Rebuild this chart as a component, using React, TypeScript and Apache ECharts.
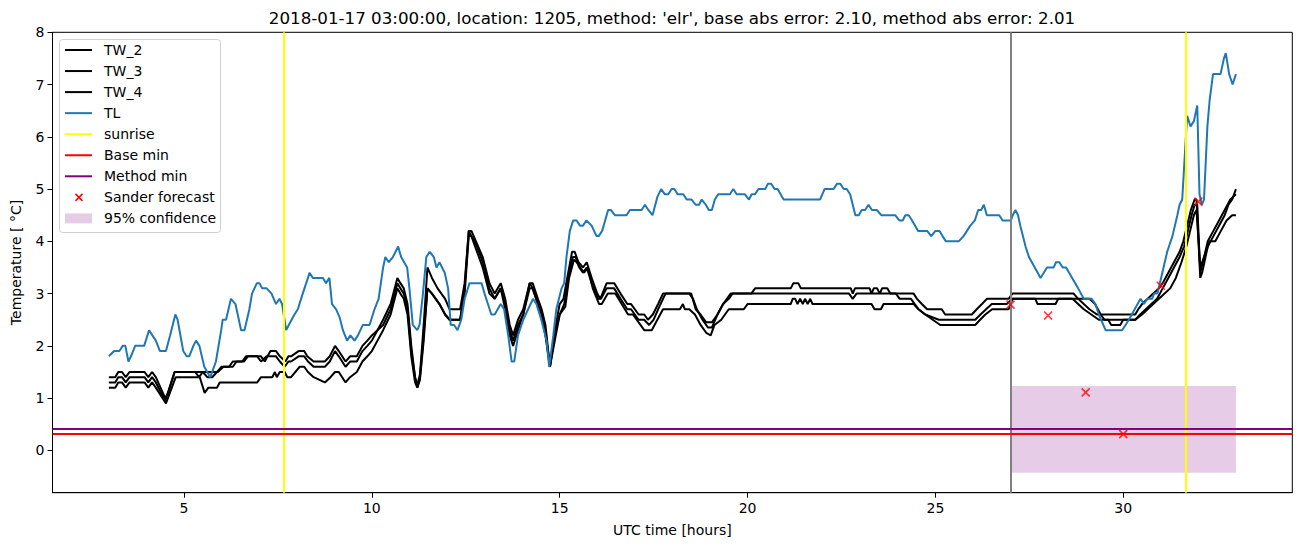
import React, { useEffect, useRef } from "react";
import * as echarts from "echarts";

const TITLE =
  "2018-01-17 03:00:00, location: 1205, method: 'elr', base abs error: 2.10, method abs error: 2.01";
const X_LABEL = "UTC time [hours]";
const Y_LABEL = "Temperature [ \u00b0C]";

const X_TICKS = [5, 10, 15, 20, 25, 30];
const Y_TICKS = [0, 1, 2, 3, 4, 5, 6, 7, 8];

// [UTC hour, temperature]
const TL: [number, number][] = [
  [3.0, 1.8], [3.14, 1.9], [3.28, 1.9], [3.37, 2.0], [3.44, 2.0], [3.52, 1.7], [3.59, 1.8], [3.7, 2.0], [3.94, 2.0],
  [4.07, 2.3], [4.25, 2.1], [4.36, 1.9], [4.52, 1.9], [4.63, 2.2], [4.77, 2.6], [4.83, 2.5], [4.98, 1.9], [5.07, 1.8],
  [5.14, 1.8], [5.25, 2.0], [5.32, 2.1], [5.41, 2.0], [5.54, 1.6], [5.7, 1.4], [5.85, 1.7], [5.99, 2.3], [6.03, 2.5],
  [6.12, 2.5], [6.25, 2.9], [6.37, 2.8], [6.52, 2.3], [6.61, 2.3], [6.74, 2.7], [6.81, 3.0], [6.94, 3.2], [7.01, 3.2],
  [7.08, 3.1], [7.2, 3.1], [7.33, 3.0], [7.45, 2.8], [7.54, 2.9], [7.61, 2.8], [7.72, 2.3], [7.79, 2.4], [7.94, 2.6],
  [8.03, 2.7], [8.16, 3.0], [8.3, 3.3], [8.34, 3.4], [8.43, 3.3], [8.7, 3.3], [8.78, 3.2], [8.87, 3.3], [8.94, 2.8],
  [9.05, 2.7], [9.14, 2.55], [9.23, 2.3], [9.34, 2.1], [9.43, 2.2], [9.54, 2.1], [9.63, 2.2], [9.76, 2.4], [9.94, 2.4],
  [10.07, 2.7], [10.18, 2.9], [10.3, 3.5], [10.36, 3.7], [10.45, 3.6], [10.56, 3.7], [10.7, 3.9], [10.78, 3.7],
  [10.86, 3.6], [10.94, 3.5], [11.0, 3.1], [11.09, 2.4], [11.21, 2.3], [11.27, 2.4], [11.36, 3.0], [11.45, 3.7],
  [11.54, 3.8], [11.65, 3.7], [11.72, 3.5], [11.8, 3.6], [11.94, 3.4], [12.03, 3.1], [12.1, 2.4], [12.19, 2.4],
  [12.28, 2.3], [12.38, 2.5], [12.47, 2.9], [12.6, 3.2], [12.92, 3.2], [13.0, 3.0], [13.09, 2.8], [13.18, 2.6],
  [13.27, 2.6], [13.43, 2.8], [13.52, 2.7], [13.63, 2.2], [13.72, 1.7], [13.79, 1.7], [13.89, 2.2], [14.03, 2.5],
  [14.16, 2.7], [14.29, 2.9], [14.38, 2.8], [14.51, 2.5], [14.65, 2.1], [14.72, 1.6], [14.83, 2.2], [14.91, 2.7],
  [15.05, 3.1], [15.12, 3.2], [15.18, 3.7], [15.27, 4.2], [15.36, 4.4], [15.45, 4.4], [15.54, 4.3], [15.62, 4.3],
  [15.71, 4.4], [15.85, 4.3], [15.98, 4.1], [16.04, 4.1], [16.13, 4.2], [16.29, 4.6], [16.36, 4.6], [16.47, 4.5],
  [16.78, 4.5], [16.87, 4.6], [17.18, 4.6], [17.27, 4.7], [17.36, 4.6], [17.47, 4.5], [17.6, 4.85], [17.7, 5.0],
  [17.8, 4.9], [17.89, 4.9], [17.98, 5.0], [18.05, 5.0], [18.14, 4.9], [18.29, 4.9], [18.38, 4.8], [18.51, 4.8],
  [18.62, 4.7], [18.71, 4.7], [18.78, 4.8], [18.89, 4.7], [18.97, 4.6], [19.05, 4.6], [19.13, 4.8], [19.22, 4.9],
  [19.53, 4.9], [19.62, 5.0], [19.71, 4.9], [19.93, 4.9], [20.04, 4.8], [20.11, 4.9], [20.2, 4.9], [20.29, 5.0],
  [20.47, 5.0], [20.54, 5.1], [20.63, 5.1], [20.72, 5.0], [20.8, 5.0], [20.96, 4.8], [21.93, 4.8], [22.05, 5.0],
  [22.29, 5.0], [22.38, 5.1], [22.47, 5.1], [22.56, 5.0], [22.64, 5.0], [22.73, 4.9], [22.87, 4.5], [22.96, 4.5],
  [23.04, 4.6], [23.13, 4.6], [23.22, 4.7], [23.31, 4.6], [23.44, 4.6], [23.56, 4.5], [23.93, 4.5], [24.04, 4.4],
  [24.13, 4.4], [24.2, 4.5], [24.29, 4.5], [24.38, 4.4], [24.54, 4.2], [24.78, 4.2], [24.89, 4.1], [25.0, 4.2],
  [25.11, 4.2], [25.19, 4.1], [25.28, 4.0], [25.62, 4.0], [25.75, 4.1], [25.84, 4.2], [25.93, 4.3], [26.05, 4.4],
  [26.14, 4.6], [26.22, 4.6], [26.29, 4.7], [26.37, 4.5], [26.7, 4.5], [26.79, 4.4], [27.01, 4.4], [27.06, 4.5],
  [27.13, 4.6], [27.2, 4.5], [27.26, 4.3], [27.33, 4.1], [27.4, 3.9], [27.49, 3.7], [27.8, 3.3], [27.97, 3.5],
  [28.15, 3.5], [28.21, 3.6], [28.3, 3.6], [28.39, 3.5], [28.48, 3.5], [28.64, 3.3], [28.8, 3.1], [28.95, 2.9],
  [29.16, 2.9], [29.26, 2.8], [29.35, 2.6], [29.53, 2.3], [29.97, 2.3], [30.15, 2.5], [30.46, 2.9], [30.55, 2.8],
  [30.64, 2.9], [30.77, 2.9], [30.82, 3.0], [30.91, 3.0], [31.04, 3.4], [31.17, 3.8], [31.31, 4.1], [31.44, 4.5],
  [31.5, 4.7], [31.57, 4.8], [31.7, 6.4], [31.79, 6.2], [31.88, 6.3], [31.97, 6.6], [32.03, 4.9], [32.09, 4.7],
  [32.15, 4.8], [32.24, 6.2], [32.3, 6.7], [32.39, 7.2], [32.59, 7.2], [32.68, 7.5], [32.73, 7.6], [32.82, 7.2],
  [32.91, 7.0], [33.0, 7.2],
];

const TW_2: [number, number][] = [
  [3.0, 1.4], [3.17, 1.4], [3.25, 1.5], [3.35, 1.5], [3.45, 1.4], [3.55, 1.5], [3.95, 1.5], [4.05, 1.4], [4.15, 1.5],
  [4.25, 1.4], [4.5, 1.0], [4.58, 1.1], [4.75, 1.5], [5.5, 1.5], [5.62, 1.4], [5.75, 1.4], [5.88, 1.5], [6.0, 1.6],
  [6.3, 1.6], [6.4, 1.7], [6.6, 1.7], [6.7, 1.8], [7.05, 1.8], [7.15, 1.7], [7.3, 1.9], [7.45, 1.9], [7.55, 1.8],
  [7.7, 1.7], [7.78, 1.8], [7.85, 1.8], [8.05, 1.9], [8.2, 1.9], [8.28, 1.8], [8.45, 1.7], [8.75, 1.7], [8.88, 1.8],
  [9.02, 2.0], [9.12, 1.9], [9.3, 1.7], [9.42, 1.8], [9.6, 1.8], [9.75, 2.0], [9.88, 2.1], [10.0, 2.2], [10.15, 2.3],
  [10.3, 2.5], [10.5, 2.8], [10.68, 3.3], [10.76, 3.2], [10.85, 3.1], [10.95, 2.8], [11.05, 2.0], [11.15, 1.4],
  [11.21, 1.25], [11.28, 1.45], [11.38, 2.4], [11.48, 3.5], [11.6, 3.3], [11.75, 3.1], [11.95, 2.9], [12.07, 2.7],
  [12.35, 2.7], [12.47, 3.2], [12.58, 4.2], [12.65, 4.2], [12.8, 3.95], [12.95, 3.7], [13.13, 3.2], [13.27, 3.0],
  [13.43, 3.2], [13.55, 2.9], [13.67, 2.4], [13.76, 2.2], [13.89, 2.5], [14.03, 2.7], [14.2, 3.2], [14.28, 3.2],
  [14.42, 2.9], [14.52, 2.7], [14.62, 2.4], [14.74, 1.6], [14.87, 2.3], [15.0, 2.8], [15.1, 2.9], [15.2, 3.3],
  [15.33, 3.8], [15.4, 3.8], [15.5, 3.6], [15.62, 3.5], [15.72, 3.6], [15.85, 3.3], [16.0, 3.0], [16.08, 2.9],
  [16.25, 3.2], [16.45, 3.2], [16.62, 3.0], [16.8, 2.8], [16.9, 2.8], [17.0, 2.7], [17.1, 2.6], [17.25, 2.6],
  [17.35, 2.5], [17.48, 2.6], [17.62, 2.8], [17.75, 3.0], [18.5, 3.0], [18.62, 2.7], [18.75, 2.6], [18.9, 2.45],
  [19.05, 2.45], [19.2, 2.6], [19.35, 2.8], [19.55, 3.0], [20.1, 3.0], [20.2, 3.1], [21.15, 3.1], [21.22, 3.2],
  [21.35, 3.2], [21.42, 3.1], [22.75, 3.1], [22.8, 3.0], [22.86, 3.1], [23.25, 3.1], [23.3, 3.0], [23.36, 3.1],
  [23.45, 3.1], [23.52, 3.0], [23.58, 3.1], [23.72, 3.1], [23.8, 3.0], [24.42, 3.0], [24.51, 2.9], [24.64, 2.8],
  [24.78, 2.7], [25.17, 2.7], [25.26, 2.6], [25.97, 2.6], [26.1, 2.7], [26.24, 2.8], [26.37, 2.9], [26.95, 2.9],
  [27.05, 3.0], [28.68, 3.0], [28.8, 2.9], [28.95, 2.8], [29.1, 2.7], [29.3, 2.6], [30.32, 2.6], [30.4, 2.7],
  [30.5, 2.8], [30.65, 2.9], [30.8, 3.0], [30.95, 3.1], [31.05, 3.2], [31.2, 3.4], [31.35, 3.6], [31.5, 3.8],
  [31.6, 4.0], [31.7, 4.3], [31.8, 4.6], [31.9, 4.8], [31.95, 4.8], [32.05, 3.3], [32.1, 3.4], [32.25, 3.9],
  [32.4, 4.1], [32.55, 4.3], [32.7, 4.5], [32.8, 4.7], [32.9, 4.8], [33.0, 5.0],
];

const TW_3: [number, number][] = [
  [3.0, 1.3], [3.17, 1.3], [3.25, 1.4], [3.35, 1.4], [3.45, 1.3], [3.55, 1.4], [3.95, 1.4], [4.05, 1.3], [4.15, 1.4],
  [4.25, 1.3], [4.5, 0.95], [4.75, 1.5], [5.3, 1.5], [5.4, 1.4], [5.5, 1.5], [5.9, 1.5], [6.05, 1.6], [6.2, 1.6],
  [6.3, 1.7], [6.55, 1.7], [6.65, 1.8], [6.95, 1.8], [7.05, 1.7], [7.2, 1.8], [7.45, 1.8], [7.55, 1.7], [7.68, 1.6],
  [7.78, 1.7], [7.85, 1.7], [8.05, 1.8], [8.2, 1.8], [8.3, 1.7], [8.45, 1.6], [8.75, 1.6], [8.88, 1.7], [9.02, 1.9],
  [9.12, 1.8], [9.3, 1.6], [9.42, 1.7], [9.6, 1.7], [9.75, 1.9], [9.88, 2.0], [10.0, 2.1], [10.15, 2.3], [10.3, 2.4],
  [10.5, 2.7], [10.68, 3.2], [10.76, 3.1], [10.85, 3.0], [10.95, 2.7], [11.05, 1.9], [11.15, 1.4], [11.21, 1.2],
  [11.28, 1.4], [11.38, 2.2], [11.48, 3.1], [11.6, 3.0], [11.8, 2.8], [11.95, 2.6], [12.07, 2.5], [12.35, 2.5],
  [12.47, 3.1], [12.58, 4.2], [12.65, 4.1], [12.8, 3.9], [12.95, 3.6], [13.13, 3.1], [13.27, 2.9], [13.43, 3.1],
  [13.55, 2.8], [13.67, 2.3], [13.76, 2.1], [13.89, 2.4], [14.03, 2.6], [14.2, 3.2], [14.28, 3.1], [14.42, 2.8],
  [14.52, 2.6], [14.62, 2.3], [14.74, 1.6], [14.87, 2.2], [15.0, 2.6], [15.12, 2.8], [15.22, 3.3], [15.35, 3.7],
  [15.42, 3.7], [15.52, 3.5], [15.62, 3.4], [15.72, 3.5], [15.85, 3.2], [16.02, 2.9], [16.1, 2.9], [16.25, 3.1],
  [16.45, 3.1], [16.62, 2.9], [16.8, 2.7], [16.9, 2.7], [17.0, 2.6], [17.1, 2.5], [17.25, 2.5], [17.38, 2.4],
  [17.5, 2.5], [17.62, 2.7], [17.75, 2.9], [17.82, 3.0], [18.45, 3.0], [18.55, 2.9], [18.65, 2.7], [18.8, 2.5],
  [18.95, 2.35], [19.05, 2.35], [19.2, 2.6], [19.35, 2.8], [19.5, 2.9], [19.6, 3.0], [22.7, 3.0], [22.8, 2.9],
  [22.9, 3.0], [23.95, 3.0], [24.05, 2.9], [24.35, 2.9], [24.45, 2.8], [24.55, 2.7], [24.73, 2.6], [25.09, 2.5],
  [26.06, 2.5], [26.2, 2.6], [26.35, 2.7], [26.5, 2.8], [26.9, 2.8], [27.05, 2.9], [27.66, 2.9], [27.72, 2.8],
  [28.2, 2.8], [28.27, 2.9], [28.65, 2.9], [28.8, 2.8], [28.95, 2.7], [29.15, 2.6], [29.35, 2.5], [29.6, 2.5],
  [29.68, 2.4], [29.92, 2.4], [30.0, 2.5], [30.32, 2.5], [30.45, 2.6], [30.6, 2.7], [30.75, 2.8], [30.9, 2.9],
  [31.05, 3.1], [31.2, 3.3], [31.35, 3.5], [31.5, 3.7], [31.62, 3.9], [31.72, 4.2], [31.82, 4.5], [31.9, 4.7],
  [31.97, 4.7], [32.05, 3.4], [32.12, 3.6], [32.25, 4.0], [32.4, 4.2], [32.55, 4.4], [32.7, 4.6], [32.85, 4.8],
  [33.0, 4.9],
];

const TW_4: [number, number][] = [
  [3.0, 1.2], [3.17, 1.2], [3.25, 1.3], [3.35, 1.3], [3.45, 1.2], [3.55, 1.3], [3.95, 1.3], [4.05, 1.2], [4.15, 1.3],
  [4.25, 1.2], [4.52, 0.9], [4.78, 1.4], [5.42, 1.4], [5.55, 1.1], [5.65, 1.2], [5.88, 1.2], [5.95, 1.3], [6.95, 1.3],
  [7.05, 1.4], [7.35, 1.4], [7.42, 1.5], [7.47, 1.4], [7.55, 1.5], [7.68, 1.5], [7.75, 1.4], [7.85, 1.4], [8.08, 1.6],
  [8.2, 1.6], [8.3, 1.5], [8.45, 1.4], [8.75, 1.3], [8.9, 1.4], [9.02, 1.5], [9.12, 1.5], [9.3, 1.3], [9.42, 1.4],
  [9.6, 1.5], [9.75, 1.7], [9.88, 1.8], [10.0, 1.9], [10.15, 2.1], [10.3, 2.3], [10.5, 2.6], [10.68, 3.1],
  [10.76, 3.0], [10.85, 2.9], [10.95, 2.6], [11.05, 1.8], [11.15, 1.3], [11.21, 1.2], [11.28, 1.35], [11.38, 2.1],
  [11.48, 3.1], [11.6, 3.0], [11.8, 2.8], [11.95, 2.6], [12.07, 2.5], [12.35, 2.5], [12.47, 3.0], [12.58, 4.1],
  [12.65, 4.1], [12.8, 3.8], [12.95, 3.5], [13.13, 3.0], [13.27, 2.9], [13.43, 3.1], [13.55, 2.7], [13.67, 2.2],
  [13.76, 2.0], [13.89, 2.3], [14.03, 2.6], [14.2, 3.1], [14.28, 3.1], [14.42, 2.8], [14.52, 2.6], [14.62, 2.2],
  [14.74, 1.6], [14.87, 2.1], [15.0, 2.6], [15.15, 2.75], [15.25, 3.3], [15.38, 3.65], [15.45, 3.6], [15.55, 3.5],
  [15.65, 3.4], [15.75, 3.5], [15.88, 3.1], [16.05, 2.8], [16.12, 2.8], [16.28, 3.0], [16.48, 3.0], [16.65, 2.8],
  [16.82, 2.6], [16.95, 2.6], [17.05, 2.5], [17.15, 2.4], [17.25, 2.3], [17.45, 2.3], [17.6, 2.5], [17.75, 2.7],
  [18.2, 2.7], [18.28, 2.8], [18.33, 2.7], [18.45, 2.7], [18.6, 2.6], [18.75, 2.4], [18.9, 2.25], [19.02, 2.2],
  [19.12, 2.4], [19.3, 2.5], [19.5, 2.7], [19.9, 2.7], [20.0, 2.8], [21.15, 2.8], [21.2, 2.9], [21.27, 2.9],
  [21.33, 2.8], [21.4, 2.9], [21.47, 2.8], [21.53, 2.9], [21.6, 2.8], [21.67, 2.9], [21.73, 2.8], [23.3, 2.8],
  [23.38, 2.7], [23.55, 2.7], [23.62, 2.8], [24.42, 2.8], [24.55, 2.7], [24.73, 2.6], [25.13, 2.4], [26.06, 2.4],
  [26.19, 2.5], [26.33, 2.6], [26.51, 2.7], [26.95, 2.7], [27.05, 2.9], [29.1, 2.9], [29.25, 2.8], [29.4, 2.6],
  [29.5, 2.5], [30.32, 2.5], [30.5, 2.6], [30.65, 2.7], [30.8, 2.8], [30.95, 2.9], [31.1, 3.0], [31.25, 3.1],
  [31.4, 3.3], [31.55, 3.6], [31.68, 3.9], [31.78, 4.2], [31.88, 4.5], [31.95, 4.6], [32.05, 3.5], [32.15, 3.7],
  [32.3, 4.0], [32.45, 4.0], [32.6, 4.2], [32.75, 4.4], [32.9, 4.5], [33.0, 4.5],
];

const SANDER_T = [27, 28, 29, 30, 31, 32];
const SANDER_V = [2.79, 2.58, 1.11, 0.31, 3.15, 4.76];

const SUNRISE = [7.66, 31.67];
const FORECAST_START = 27;
const BASE_MIN = 0.32;
const METHOD_MIN = 0.41;
const CONF_START = 27;
const CONF_END = 33;
const CONF_LOW = -0.43;
const CONF_HIGH = 1.23;

const X_MIN = 1.5;
const X_MAX = 34.5;
const Y_MIN = -0.81;
const Y_MAX = 8;

const FONT = '"DejaVu Sans", Verdana, sans-serif';
const BLUE = "#1f77b4";
const CONF_COLOR = "rgba(128,0,128,0.2)";

const LEGEND_ITEMS: { label: string; kind: string; color: string }[] = [
  { label: "TW_2", kind: "line", color: "#000000" },
  { label: "TW_3", kind: "line", color: "#000000" },
  { label: "TW_4", kind: "line", color: "#000000" },
  { label: "TL", kind: "line", color: BLUE },
  { label: "sunrise", kind: "line", color: "#ffff00" },
  { label: "Base min", kind: "line", color: "#ff0000" },
  { label: "Method min", kind: "line", color: "#800080" },
  { label: "Sander forecast", kind: "x", color: "#ff0000" },
  { label: "95% confidence", kind: "patch", color: CONF_COLOR },
];

function buildLegend() {
  const children: any[] = [
    {
      type: "rect",
      shape: { x: 59.5, y: 39.5, width: 161, height: 193, r: 3 },
      style: { fill: "rgba(255,255,255,0.8)", stroke: "#d0d0d0", lineWidth: 1 },
    },
  ];
  LEGEND_ITEMS.forEach((it, i) => {
    const y = 50 + i * 21.05;
    if (it.kind === "line") {
      children.push({
        type: "line",
        shape: { x1: 65, y1: y, x2: 92, y2: y },
        style: { stroke: it.color, lineWidth: 2 },
      });
    } else if (it.kind === "x") {
      children.push({
        type: "line",
        shape: { x1: 75.5, y1: y - 3.5, x2: 82.5, y2: y + 3.5 },
        style: { stroke: it.color, lineWidth: 1.5 },
      });
      children.push({
        type: "line",
        shape: { x1: 75.5, y1: y + 3.5, x2: 82.5, y2: y - 3.5 },
        style: { stroke: it.color, lineWidth: 1.5 },
      });
    } else {
      children.push({
        type: "rect",
        shape: { x: 65, y: y - 5, width: 27, height: 10 },
        style: { fill: it.color },
      });
    }
    children.push({
      type: "text",
      x: 104,
      y,
      style: { text: it.label, fill: "#000", font: `14px ${FONT}`, align: "left", verticalAlign: "middle" },
    });
  });
  return { type: "group", children, z: 100 };
}

export default function App() {
  const ref = useRef<HTMLDivElement>(null);

  useEffect(() => {
    if (!ref.current) return;
    const chart = echarts.init(ref.current, null, { renderer: "svg" });

    const lineSeries = (name: string, data: [number, number][], color: string, z: number) => ({
      name,
      type: "line",
      data,
      showSymbol: false,
      symbol: "none",
      lineStyle: { color, width: 2 },
      itemStyle: { color },
      emphasis: { disabled: true },
      silent: true,
      z,
    });

    const vLine = (name: string, values: number[], color: string, axis: "xAxis" | "yAxis") => ({
      name,
      type: "line",
      data: [],
      silent: true,
      z: 4,
      markLine: {
        silent: true,
        symbol: ["none", "none"],
        label: { show: false },
        lineStyle: { color, width: 2, type: "solid" },
        data: values.map((v) => ({ [axis]: v })),
      },
    });

    const option: any = {
      animation: false,
      backgroundColor: "#ffffff",
      grid: {
        left: 52.5,
        right: 9.7,
        top: 32.3,
        bottom: 54.3,
        show: true,
        borderColor: "#000",
        borderWidth: 1,
        containLabel: false,
      },
      xAxis: {
        type: "value",
        min: X_MIN,
        max: X_MAX,
        name: X_LABEL,
        nameLocation: "middle",
        nameGap: 30,
        nameTextStyle: { color: "#000", fontSize: 14, fontFamily: FONT },
        axisLine: { show: true, onZero: false, lineStyle: { color: "#000", width: 1 } },
        axisTick: { show: true, length: 5, lineStyle: { color: "#000" }, customValues: X_TICKS },
        axisLabel: { color: "#000", fontSize: 14, fontFamily: FONT, margin: 8, customValues: X_TICKS },
        splitLine: { show: false },
      },
      yAxis: {
        type: "value",
        min: Y_MIN,
        max: Y_MAX,
        name: Y_LABEL,
        nameLocation: "middle",
        nameGap: 30,
        nameRotate: 90,
        nameTextStyle: { color: "#000", fontSize: 14, fontFamily: FONT },
        axisLine: { show: true, onZero: false, lineStyle: { color: "#000", width: 1 } },
        axisTick: { show: true, length: 5, lineStyle: { color: "#000" }, customValues: Y_TICKS },
        axisLabel: { color: "#000", fontSize: 14, fontFamily: FONT, margin: 8, customValues: Y_TICKS },
        splitLine: { show: false },
      },
      series: [
        {
          name: "95% confidence",
          type: "line",
          data: [],
          silent: true,
          z: 1,
          markArea: {
            silent: true,
            itemStyle: { color: CONF_COLOR },
            data: [[{ coord: [CONF_START, CONF_LOW] }, { coord: [CONF_END, CONF_HIGH] }]],
          },
        },
        lineSeries("TW_2", TW_2, "#000000", 2),
        lineSeries("TW_3", TW_3, "#000000", 2),
        lineSeries("TW_4", TW_4, "#000000", 2),
        lineSeries("TL", TL, BLUE, 3),
        vLine("sunrise", SUNRISE, "#ffff00", "xAxis"),
        vLine("forecast start", [FORECAST_START], "#808080", "xAxis"),
        vLine("Base min", [BASE_MIN], "#ff0000", "yAxis"),
        vLine("Method min", [METHOD_MIN], "#800080", "yAxis"),
        {
          name: "Sander forecast",
          type: "scatter",
          data: SANDER_T.map((t, i) => [t, SANDER_V[i]]),
          symbol: "path://M0,0L10,10M10,0L0,10",
          symbolSize: 8,
          itemStyle: { color: "#ff0000", borderColor: "#ff0000", borderWidth: 1.6 },
          emphasis: { disabled: true },
          silent: true,
          z: 5,
        },
      ],
      graphic: [
        {
          type: "text",
          x: 672,
          y: 18,
          style: { text: TITLE, fill: "#000", font: `16.7px ${FONT}`, align: "center", verticalAlign: "middle" },
        },
        buildLegend(),
      ],
    };

    chart.setOption(option);
    return () => chart.dispose();
  }, []);

  return (
    <div
      ref={ref}
      style={{ position: "fixed", left: 0, top: 0, width: 1302, height: 547, background: "#fff" }}
    />
  );
}
